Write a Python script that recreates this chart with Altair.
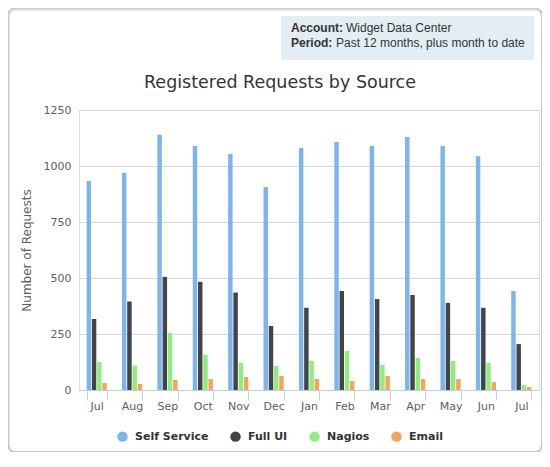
import pandas as pd
import altair as alt

# month keys are unique, the axis shows only the first three letters
months = ["Jul 13", "Aug 13", "Sep 13", "Oct 13", "Nov 13", "Dec 13",
          "Jan 14", "Feb 14", "Mar 14", "Apr 14", "May 14", "Jun 14", "Jul 14"]
sources = ["Self Service", "Full UI", "Nagios", "Email"]
colors = ["#7cb5ec", "#434348", "#90ed7d", "#f7a35c"]

self_service = [933, 969, 1140, 1089, 1054, 906, 1080, 1107, 1089, 1129, 1089, 1044, 442]
full_ui = [317, 395, 505, 483, 435, 286, 367, 442, 406, 424, 389, 367, 205]
nagios = [125, 109, 255, 157, 121, 107, 130, 174, 112, 143, 130, 121, 22]
email = [31, 27, 45, 49, 58, 63, 49, 40, 63, 49, 49, 35, 13]

info_labels = ["Account:", "Period:"]
info_values = ["Widget Data Center", "Past 12 months, plus month to date"]

FONT = "DejaVu Sans"
TEXT_FONT = "Liberation Sans"

rows = []
for name, vals in zip(sources, [self_service, full_ui, nagios, email]):
    for m, v in zip(months, vals):
        rows.append({"month": m, "source": name, "requests": v})
df = pd.DataFrame(rows)

W, H = 460, 280


def note(text, x, y, **kw):
    # free text placed in pixels, outside the data scales
    return alt.Chart(pd.DataFrame({"t": [text]})).mark_text(
        align="left", baseline="alphabetic", **kw
    ).encode(x=alt.value(x), y=alt.value(y), text="t:N")


# soft shadow + rounded border round the whole chart
shadow = alt.Chart(df).mark_rect(
    filled=False, stroke="#e4e4e4", strokeWidth=2, cornerRadius=6
).encode(
    x=alt.value(-70), x2=alt.value(463), y=alt.value(-100.5), y2=alt.value(342.5)
)
frame = alt.Chart(df).mark_rect(
    filled=False, stroke="#c8c8c8", strokeWidth=1, cornerRadius=5
).encode(
    x=alt.value(-70.5), x2=alt.value(462.5), y=alt.value(-101.5), y2=alt.value(341.5)
)

info_box = alt.Chart(df).mark_rect(fill="#e2eef3").encode(
    x=alt.value(202), x2=alt.value(455), y=alt.value(-94), y2=alt.value(-50)
)

info_text = [
    note(info_labels[0], 212, -78, font=TEXT_FONT, fontSize=12, fontWeight="bold", color="#333333"),
    note(info_values[0], 267, -78, font=TEXT_FONT, fontSize=12, color="#333333"),
    note(info_labels[1], 212, -63, font=TEXT_FONT, fontSize=12, fontWeight="bold", color="#333333"),
    note(info_values[1], 257, -63, font=TEXT_FONT, fontSize=12, color="#333333"),
]

title = alt.Chart(pd.DataFrame({"t": ["Registered Requests by Source"]})).mark_text(
    align="center", baseline="alphabetic", font=FONT, fontSize=17.5, color="#333333"
).encode(x=alt.value(201), y=alt.value(-22), text="t:N")

bars = alt.Chart(df).mark_bar().encode(
    x=alt.X("month:N", sort=months, title=None)
    .scale(paddingInner=0.43, paddingOuter=0.215)
    .axis(
        labelExpr="substring(datum.label, 0, 3)",
        labelAngle=0,
        tickBand="extent",
        tickSize=10,
        tickColor="#c0d0e0",
        domainColor="#c0d0e0",
        labelColor="#606060",
        labelFont=FONT,
        labelFontSize=11,
        labelPadding=0,
        grid=False,
    ),
    xOffset=alt.XOffset("source:N", sort=sources).scale(paddingInner=0.15, paddingOuter=0),
    y=alt.Y("requests:Q", title="Number of Requests")
    .scale(domain=[0, 1250], nice=False)
    .axis(
        values=[0, 250, 500, 750, 1000, 1250],
        format="d",
        domain=False,
        ticks=False,
        gridColor="#d8d8d8",
        labelColor="#606060",
        labelFont=FONT,
        labelFontSize=11,
        labelPadding=8,
        titleColor="#606060",
        titleFont=FONT,
        titleFontSize=12,
        titleFontWeight="normal",
        titlePadding=10,
    ),
    color=alt.Color("source:N", sort=sources)
    .scale(domain=sources, range=colors)
    .legend(
        title=None,
        orient="none",
        direction="horizontal",
        legendX=38,
        legendY=41 + H,
        symbolType="circle",
        symbolSize=110,
        symbolStrokeWidth=0,
        symbolOpacity=1,
        labelFont=FONT,
        labelFontSize=11,
        labelFontWeight="bold",
        labelColor="#333333",
        labelOffset=7,
        columnPadding=21,
    ),
)

chart = (
    alt.layer(shadow, frame, info_box, *info_text, title, bars)
    .properties(
        width=W,
        height=H,
        padding={"left": 71, "top": 102, "right": 3, "bottom": 62},
        autosize=alt.AutoSizeParams(type="none"),
    )
    .configure_view(stroke=None)
    .configure(background="white")
)

chart.save("out.html", embed_options={"renderer": "svg", "actions": False})
